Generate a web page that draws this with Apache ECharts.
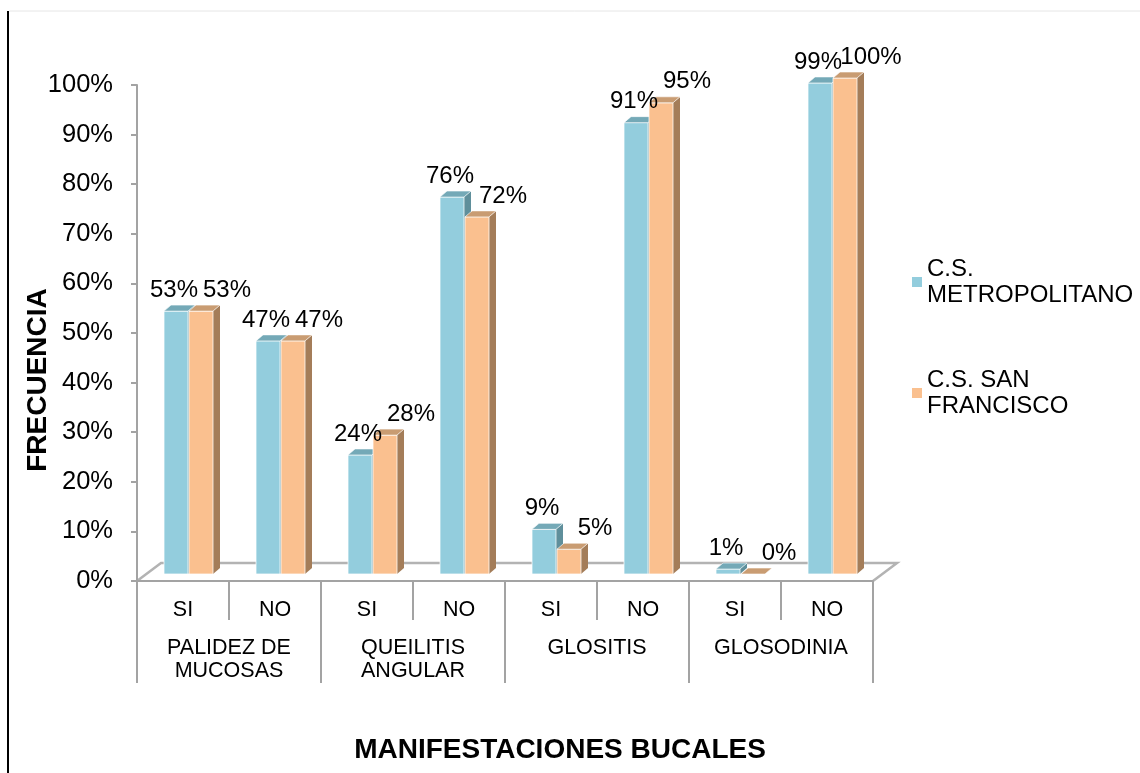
<!DOCTYPE html>
<html>
<head>
<meta charset="utf-8">
<script src="https://cdn.jsdelivr.net/npm/echarts@6/dist/echarts.min.js"></script>
<style>
  * { margin: 0; padding: 0; }
  html, body { background: #fff; }
  #main { width: 1140px; height: 773px; }
</style>
</head>
<body>
<div id="main"></div>
<script>
// datos
var subCats = ["SI", "NO", "SI", "NO", "SI", "NO", "SI", "NO"];
var groups = ["PALIDEZ DE\nMUCOSAS", "QUEILITIS\nANGULAR", "GLOSITIS", "GLOSODINIA"];
var seriesNames = ["C.S.\nMETROPOLITANO", "C.S. SAN\nFRANCISCO"];
var metropolitano = [53, 47, 24, 76, 9, 91, 1, 99];
var sanFrancisco = [53, 47, 28, 72, 5, 95, 0, 100];

var FONT = "'Liberation Sans', Arial, sans-serif";
var GRAY = "#a3a3a3";
// colores: frente, tapa, lado
var colors = [
  { front: "#93cddd", top: "#74a9b7", side: "#5f8f9b" },
  { front: "#fac08f", top: "#c99c72", side: "#a47d59" }
];
// profundidad 3D de las barras
var DX = 7, DY = -6, LIFT = 7, BW = 24;

function barBox(s, api) {
  var idx = api.value(0), v = api.value(1);
  var base = api.coord([idx, 0]);
  var top = api.coord([idx, v]);
  var c = base[0];
  var x0 = s === 0 ? c - 19 : c + 6;
  return { v: v, x0: x0, yT: top[1] - LIFT, yB: base[1] - LIFT };
}

function makeRender(s) {
  return function (params, api) {
    var b = barBox(s, api);
    var x0 = b.x0, yT = b.yT, yB = b.yB;
    var col = colors[s];
    return {
      type: "group",
      children: [
        {
          type: "polygon",
          shape: { points: [[x0 + BW, yT], [x0 + BW + DX, yT + DY], [x0 + BW + DX, yB + DY], [x0 + BW, yB]] },
          style: { fill: col.side }
        },
        {
          type: "rect",
          shape: { x: x0, y: yT, width: BW, height: yB - yT },
          style: { fill: col.front, stroke: "rgba(255,255,255,0.75)", lineWidth: 1 }
        },
        {
          type: "polygon",
          shape: { points: [[x0, yT], [x0 + BW, yT], [x0 + BW + DX, yT + DY], [x0 + DX, yT + DY]] },
          style: { fill: col.top, stroke: "rgba(255,255,255,0.6)", lineWidth: 1 }
        }
      ]
    };
  };
}

// etiquetas encima de todas las barras
function makeLabel(s) {
  return function (params, api) {
    var b = barBox(s, api);
    return {
      type: "text",
      x: s === 0 ? b.x0 + BW / 2 - 2 : b.x0 + BW / 2 + 26,
      y: b.yT - 9,
      style: {
        text: b.v + "%",
        fill: "#000",
        font: "24px " + FONT,
        textAlign: "center",
        textVerticalAlign: "bottom"
      }
    };
  };
}

var chart = echarts.init(document.getElementById("main"));
var gridL = 137, gridR = 267, gridT = 85, gridB = 192;
var floorY = 773 - gridB, backY = floorY - 18, rightX = 1140 - gridR;

chart.setOption({
  animation: false,
  backgroundColor: "#fff",
  grid: { left: gridL, right: gridR, top: gridT, bottom: gridB },
  legend: {
    orient: "vertical",
    left: 907,
    top: 238,
    itemWidth: 10,
    itemHeight: 10,
    itemGap: 33,
    icon: "rect",
    data: seriesNames,
    textStyle: { fontFamily: FONT, fontSize: 24, lineHeight: 26, color: "#000", padding: [26, 0, 0, 0] }
  },
  xAxis: [
    {
      type: "category",
      data: subCats,
      axisLine: { lineStyle: { color: GRAY, width: 2 } },
      axisTick: { show: true, length: 39, lineStyle: { color: GRAY, width: 2 } },
      axisLabel: { interval: 0, margin: 18, fontFamily: FONT, fontSize: 21.5, color: "#000" }
    },
    {
      type: "category",
      data: groups,
      position: "bottom",
      axisLine: { show: false },
      axisTick: { show: true, length: 102, lineStyle: { color: GRAY, width: 2 } },
      axisLabel: { interval: 0, margin: 56, fontFamily: FONT, fontSize: 21.5, lineHeight: 23, color: "#000" }
    }
  ],
  yAxis: {
    type: "value",
    min: 0,
    max: 100,
    interval: 10,
    splitLine: { show: false },
    axisLine: { show: true, lineStyle: { color: GRAY, width: 2 } },
    axisTick: { show: true, length: 6, lineStyle: { color: GRAY, width: 2 } },
    axisLabel: { margin: 24, fontFamily: FONT, fontSize: 25.5, color: "#000", formatter: "{value}%" }
  },
  graphic: [
    {
      type: "polyline",
      z: 0,
      shape: { points: [[gridL, floorY], [gridL + 24, backY], [rightX + 24, backY], [rightX, floorY]] },
      style: { stroke: "#b3b3b3", lineWidth: 2.5, fill: null }
    },
    {
      type: "line",
      shape: { x1: 8, y1: 11, x2: 8, y2: 773 },
      style: { stroke: "#000", lineWidth: 2 }
    },
    {
      type: "line",
      shape: { x1: 9, y1: 11, x2: 1140, y2: 11 },
      style: { stroke: "#e6e6e6", lineWidth: 1 }
    },
    {
      type: "text",
      x: 38,
      y: 380,
      rotation: Math.PI / 2,
      style: { text: "FRECUENCIA", font: "bold 28px " + FONT, fill: "#000", textAlign: "center", textVerticalAlign: "middle" }
    },
    {
      type: "text",
      x: 560,
      y: 750,
      style: { text: "MANIFESTACIONES BUCALES", font: "bold 28px " + FONT, fill: "#000", textAlign: "center", textVerticalAlign: "middle" }
    }
  ],
  series: [
    {
      name: seriesNames[0],
      type: "custom",
      z: 3,
      itemStyle: { color: colors[0].front },
      renderItem: makeRender(0),
      encode: { x: 0, y: 1 },
      data: metropolitano.map(function (v, i) { return [i, v]; })
    },
    {
      name: seriesNames[1],
      type: "custom",
      z: 4,
      itemStyle: { color: colors[1].front },
      renderItem: makeRender(1),
      encode: { x: 0, y: 1 },
      data: sanFrancisco.map(function (v, i) { return [i, v]; })
    },
    {
      name: "etiquetas1",
      type: "custom",
      z: 6,
      renderItem: makeLabel(0),
      encode: { x: 0, y: 1 },
      data: metropolitano.map(function (v, i) { return [i, v]; })
    },
    {
      name: "etiquetas2",
      type: "custom",
      z: 6,
      renderItem: makeLabel(1),
      encode: { x: 0, y: 1 },
      data: sanFrancisco.map(function (v, i) { return [i, v]; })
    }
  ]
});
</script>
</body>
</html>
